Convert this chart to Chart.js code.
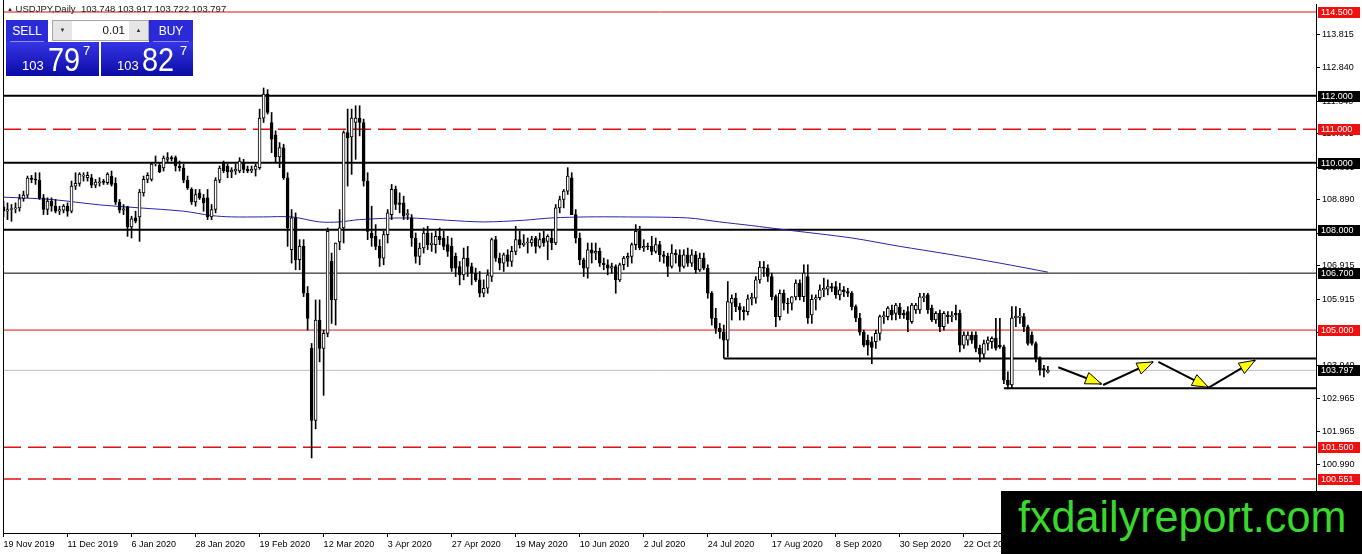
<!DOCTYPE html>
<html>
<head>
<meta charset="utf-8">
<script src="https://cdn.jsdelivr.net/npm/chart.js@4.4.0/dist/chart.umd.min.js"></script>
<style>
  body { margin: 0; background: #fff; overflow: hidden; }
  #wrap { position: relative; width: 1362px; height: 554px; font-family: 'Liberation Sans', Arial, sans-serif; }
  canvas { display: block; }
  #hdr { position: absolute; left: 7px; top: 3px; font-size: 9.5px; line-height: 11px; color: #1a1a1a; white-space: pre; }
  #hdr .tri { font-size: 6px; vertical-align: 1px; }
  .tab { position: absolute; top: 20px; height: 22px; background: #2a2ad8; color: #fff; font-size: 12px; line-height: 22px; text-align: center; }
  .tab:after { content: ''; position: absolute; left: 4px; right: 4px; bottom: 0; height: 1px; background: #8c8cf0; }
  .spin { position: absolute; left: 52px; top: 20px; width: 95px; height: 19px; border: 1px solid #a8a8a8; background: #fff; }
  .sbtn { position: absolute; top: 0; width: 19px; height: 19px; background: #e6e6e6; color: #333; font-size: 6px; line-height: 19px; text-align: center; }
  .sval { position: absolute; left: 20px; width: 52px; top: 0; height: 19px; font-size: 11.5px; line-height: 19px; text-align: right; color: #111; }
  .pbox { position: absolute; top: 42px; height: 34px; background: linear-gradient(#3535e6, #0b0ba6); color: #fff; }
  .pbox span { position: absolute; line-height: 1; white-space: nowrap; }
  .small { font-size: 13px; top: 17px; }
  .big { font-size: 34px; top: 0px; transform: scaleX(0.85); transform-origin: left top; }
  .sup { font-size: 13px; top: 2px; }
  #logo { position: absolute; left: 1001px; top: 491px; width: 361px; height: 63px; background: #000; }
  #logo span { position: absolute; left: 17px; top: 4px; font-size: 44px; line-height: 1; color: #38d82c; white-space: nowrap; transform: scaleX(0.98); transform-origin: left top; }
</style>
</head>
<body>
<div id="wrap">
  <canvas id="chart" width="1362" height="554"></canvas>
  <div id="hdr"><span class="tri">▲</span> USDJPY,Daily  103.748 103.917 103.722 103.797</div>
  <div class="tab" style="left:6px;width:42px">SELL</div>
  <div class="spin">
    <div class="sbtn" style="left:0">▼</div>
    <div class="sval">0.01</div>
    <div class="sbtn" style="right:0">▲</div>
  </div>
  <div class="tab" style="left:149px;width:44px">BUY</div>
  <div class="pbox" style="left:6px;width:93px">
    <span class="small" style="left:16px">103</span><span class="big" style="left:42px">79</span><span class="sup" style="left:77px">7</span>
  </div>
  <div class="pbox" style="left:101px;width:92px">
    <span class="small" style="left:16px">103</span><span class="big" style="left:41px">82</span><span class="sup" style="left:79px">7</span>
  </div>
  <div id="logo"><span>fxdailyreport.com</span></div>
</div>
<script>
// USDJPY daily, one row per bar: [open, high, low, close]
const candles = [
  [108.68,108.85,108.38,108.55],[108.55,108.80,108.30,108.60],[108.60,108.75,108.25,108.62],[108.62,108.80,108.50,108.65],
  [108.65,109.05,108.55,108.93],[108.93,109.15,108.85,109.03],[109.03,109.60,108.95,109.54],[109.54,109.62,109.40,109.50],
  [109.50,109.70,109.35,109.48],[109.48,109.70,108.90,108.95],[108.95,109.05,108.45,108.60],[108.60,108.95,108.45,108.85],
  [108.85,108.95,108.55,108.70],[108.70,108.90,108.50,108.55],[108.55,108.70,108.45,108.60],[108.58,108.75,108.50,108.70],
  [108.70,108.80,108.40,108.55],[108.55,109.45,108.50,109.30],[109.30,109.70,109.20,109.38],[109.38,109.70,109.30,109.66],
  [109.60,109.70,109.45,109.62],[109.55,109.72,109.45,109.62],[109.55,109.65,109.25,109.33],[109.33,109.50,109.25,109.42],
  [109.40,109.55,109.30,109.43],[109.42,109.50,109.35,109.41],[109.40,109.70,109.35,109.66],[109.60,109.75,109.30,109.35],
  [109.38,109.55,108.75,108.82],[108.82,108.90,108.50,108.58],[108.58,108.75,108.45,108.62],[108.68,108.70,107.80,108.08],
  [108.08,108.40,107.75,108.32],[108.35,108.55,108.20,108.25],[108.38,109.20,107.65,109.12],[109.10,109.60,109.00,109.50],
  [109.50,109.70,109.40,109.62],[109.50,110.00,109.45,109.96],[109.96,110.20,109.90,109.98],[109.93,109.98,109.70,109.72],
  [109.84,110.20,109.75,110.14],[110.10,110.30,110.00,110.15],[110.15,110.20,110.05,110.12],[110.15,110.20,109.75,109.90],
  [109.90,110.05,109.75,109.85],[109.84,109.95,109.40,109.48],[109.48,109.60,109.20,109.25],[109.20,109.25,108.75,108.83],
  [108.83,109.20,108.70,109.05],[109.10,109.20,108.90,108.95],[108.95,109.05,108.55,108.80],[108.95,109.20,108.30,108.38],
  [108.38,108.75,108.30,108.60],[108.60,109.55,108.50,109.48],[109.48,109.90,109.40,109.84],[109.98,110.05,109.70,109.76],
  [109.90,109.95,109.55,109.72],[109.72,109.85,109.55,109.78],[109.75,109.95,109.65,109.80],[109.75,110.15,109.70,110.05],
  [110.00,110.10,109.70,109.80],[109.80,109.90,109.70,109.75],[109.75,109.90,109.70,109.80],[109.80,109.95,109.60,109.90],
  [109.85,111.60,109.80,111.33],[111.33,112.23,111.20,112.05],[112.05,112.18,111.45,111.50],[111.20,111.50,110.30,110.70],
  [110.83,110.95,110.00,110.17],[110.17,110.60,109.85,110.45],[110.44,110.55,109.50,109.55],[109.55,109.70,107.50,108.05],
  [107.40,108.60,107.00,108.35],[108.35,108.50,106.80,107.10],[107.10,107.70,106.80,107.50],[107.50,107.70,106.00,106.10],
  [106.10,106.30,105.00,105.35],[104.46,104.60,101.18,102.30],[102.30,105.90,102.05,105.30],[105.30,105.90,104.05,104.45],
  [104.45,105.00,103.05,104.90],[104.90,108.05,104.80,107.95],[107.05,107.30,105.20,105.90],[105.90,107.60,105.15,107.60],
  [107.63,108.60,107.40,108.05],[108.05,110.95,107.60,110.90],[110.90,111.60,109.30,110.75],[110.77,111.60,109.65,111.33],
  [111.20,111.70,110.10,111.33],[111.33,111.70,110.80,111.20],[111.20,111.30,109.30,109.45],[109.45,109.70,107.70,107.95],
  [107.90,108.70,107.50,107.75],[107.80,108.15,107.40,107.50],[107.50,107.70,106.90,107.15],[107.15,107.95,106.95,107.85],
  [107.85,108.60,107.60,108.50],[108.45,109.35,108.30,109.20],[109.20,109.30,108.60,108.75],[108.80,109.10,108.50,108.75],
  [108.80,109.00,108.30,108.40],[108.45,108.60,108.30,108.45],[108.35,108.45,107.50,107.75],[107.75,107.90,107.00,107.20],
  [107.20,107.60,106.95,107.45],[107.45,108.05,107.30,107.90],[107.90,108.10,107.40,107.55],[107.55,107.90,107.35,107.60],
  [107.55,107.95,107.30,107.80],[107.80,108.05,107.55,107.70],[107.75,107.95,107.40,107.50],[107.55,107.80,107.20,107.35],
  [107.50,107.75,106.75,106.85],[107.20,107.30,106.60,106.85],[106.90,107.05,106.35,106.65],[106.65,107.45,106.50,107.15],
  [107.15,107.50,106.60,106.90],[106.90,107.00,106.35,106.70],[106.70,106.85,106.45,106.50],[106.50,106.75,105.99,106.10],
  [106.10,106.50,105.99,106.25],[106.25,106.80,106.10,106.65],[106.60,107.75,106.45,107.70],[107.70,107.80,107.05,107.15],
  [107.15,107.30,106.80,107.00],[107.00,107.30,106.75,107.25],[107.25,107.40,106.90,107.05],[107.05,107.50,106.90,107.35],
  [107.35,108.10,107.25,107.70],[107.70,107.95,107.45,107.55],[107.55,107.85,107.50,107.60],[107.60,107.75,107.30,107.60],
  [107.60,107.80,107.50,107.70],[107.75,107.80,107.30,107.50],[107.50,107.90,107.45,107.70],[107.75,107.95,107.50,107.60],
  [107.65,107.85,107.10,107.80],[107.75,108.00,107.40,107.60],[107.60,108.75,107.55,108.65],[108.65,109.00,108.50,108.90],
  [108.90,109.20,108.65,109.15],[109.15,109.85,109.05,109.60],[109.55,109.70,108.45,108.45],[108.45,108.60,107.60,107.75],
  [107.75,107.90,106.95,107.10],[107.10,107.15,106.60,106.85],[106.85,107.60,106.55,107.40],[107.40,107.60,107.00,107.30],
  [107.30,107.60,107.10,107.35],[107.35,107.45,106.90,107.00],[107.00,107.15,106.80,106.95],[106.95,107.10,106.65,106.85],
  [106.85,107.00,106.70,106.90],[106.90,106.95,106.10,106.50],[106.50,107.00,106.45,106.95],[106.95,107.20,106.80,107.15],
  [107.15,107.30,106.90,107.20],[107.20,107.60,107.00,107.55],[107.55,108.15,107.40,107.95],[107.95,108.10,107.40,107.45],
  [107.45,107.70,107.35,107.50],[107.50,107.60,107.40,107.48],[107.50,107.80,107.25,107.35],[107.35,107.75,107.30,107.55],
  [107.55,107.65,107.05,107.25],[107.25,107.35,107.00,107.20],[107.20,107.30,106.60,106.90],[106.90,107.55,106.85,107.30],
  [107.30,107.40,107.00,107.25],[107.25,107.40,106.75,106.90],[106.90,107.40,106.85,107.25],[107.25,107.45,106.90,107.00],
  [107.00,107.40,106.90,107.25],[107.25,107.35,106.70,106.80],[106.80,107.30,106.75,107.15],[107.15,107.30,106.80,106.85],
  [106.85,106.95,105.95,106.10],[106.10,106.15,105.15,105.35],[105.35,105.65,104.90,105.05],[105.05,105.20,104.75,104.95],
  [104.95,105.15,104.16,104.70],[104.70,106.45,104.20,105.85],[105.80,106.05,105.30,105.95],[105.95,106.10,105.55,105.70],
  [105.70,105.80,105.30,105.60],[105.60,105.70,105.30,105.55],[105.55,106.05,105.45,105.93],[105.93,106.10,105.75,105.98],
  [105.95,106.60,105.80,106.50],[106.50,107.05,106.40,106.88],[106.88,107.05,106.60,106.85],[106.85,106.95,106.45,106.60],
  [106.60,106.70,105.90,106.00],[106.00,106.05,105.10,105.40],[105.40,106.20,105.30,106.10],[106.10,106.20,105.60,105.80],
  [105.80,105.95,105.50,105.78],[105.80,106.00,105.60,105.99],[105.99,106.50,105.90,106.40],[106.40,106.50,105.90,106.00],
  [106.00,106.95,105.85,106.70],[106.60,106.95,105.20,105.36],[105.45,106.05,105.20,105.92],[105.92,106.05,105.60,105.97],
  [105.97,106.35,105.90,106.20],[106.20,106.55,106.00,106.25],[106.22,106.50,106.05,106.30],[106.30,106.40,106.15,106.25],
  [106.30,106.45,105.95,106.05],[106.05,106.40,105.90,106.20],[106.20,106.30,106.00,106.15],[106.15,106.25,106.00,106.10],
  [106.10,106.15,105.60,105.70],[105.70,105.75,105.25,105.36],[105.36,105.50,104.85,104.94],[104.94,105.00,104.50,104.55],
  [104.70,104.85,104.25,104.55],[104.65,104.80,104.00,104.48],[104.65,105.00,104.45,104.90],[104.90,105.45,104.70,105.40],
  [105.40,105.55,105.20,105.42],[105.40,105.70,105.30,105.66],[105.60,105.75,105.30,105.45],[105.50,105.80,105.30,105.75],
  [105.68,105.80,105.35,105.45],[105.50,105.60,105.35,105.45],[105.55,105.70,104.95,105.30],[105.25,105.80,105.20,105.75],
  [105.60,105.80,105.50,105.75],[105.60,106.10,105.50,105.99],[105.97,106.10,105.85,106.00],[106.05,106.10,105.50,105.60],
  [105.66,105.75,105.25,105.30],[105.30,105.55,105.20,105.50],[105.50,105.60,104.95,105.10],[105.10,105.55,105.00,105.50],
  [105.45,105.55,105.20,105.40],[105.40,105.55,105.25,105.42],[105.50,105.75,105.30,105.45],[105.50,105.60,104.35,104.55],
  [104.55,104.95,104.45,104.85],[104.70,104.95,104.55,104.85],[104.85,104.95,104.60,104.70],[104.85,104.95,104.35,104.45],
  [104.46,104.55,104.05,104.28],[104.28,104.70,104.15,104.60],[104.60,104.80,104.40,104.70],[104.65,104.80,104.45,104.75],
  [104.76,105.35,104.40,104.46],[104.55,105.35,104.45,104.50],[104.50,104.55,103.40,103.50],[103.50,103.75,103.24,103.36],
  [103.36,105.70,103.26,105.36],[105.36,105.70,105.10,105.42],[105.38,105.65,105.20,105.42],[105.40,105.50,104.95,105.10],
  [105.10,105.15,104.55,104.60],[104.85,104.95,104.55,104.60],[104.60,104.65,104.05,104.17],[104.17,104.20,103.65,103.80],
  [103.85,103.95,103.60,103.80],[103.748,103.917,103.722,103.797]
];

// moving average (blue), read at a few bars
const maBars   = [0, 12, 24, 34, 45, 52, 57, 65, 72, 79, 84, 89, 101, 111, 120, 130, 137, 146, 154, 171, 179, 187, 195, 212, 224, 236, 249, 261];
const maValues = [108.97, 108.90, 108.74, 108.65, 108.55, 108.42, 108.38, 108.38, 108.38, 108.23, 108.23, 108.30, 108.35, 108.28,
                  108.23, 108.28, 108.35, 108.38, 108.38, 108.35, 108.23, 108.12, 108.00, 107.75, 107.50, 107.27, 107.00, 106.73];

// horizontal levels
const redSolidLevels = [114.5, 105.0];
const redDashedLevels = [111.0, 101.5, 100.551];
const blackMajorLevels = [112.0, 110.0, 108.0];
const blackMinorLevels = [106.7];
const lastPrice = 103.797;
const supportStartBars = [180, 250];
const supportLevels = [104.15, 103.26];

// right-axis tags
const redTags = [114.5, 111.0, 105.0, 101.5, 100.551];
const blackTags = [112.0, 110.0, 108.0, 106.7, 103.797];

// projected path arrows [bar, price]
const arrowFrom = [[263.6, 103.89], [274.8, 103.36], [288.6, 104.05], [301.3, 103.29]];
const arrowTo   = [[274.4, 103.39], [287.3, 104.05], [301.1, 103.29], [312.8, 104.10]];

// axis ticks
const priceTicks = [113.815, 112.840, 111.840, 110.865, 109.865, 108.890, 107.890, 106.915, 105.915, 104.940, 103.940, 102.965, 101.965, 100.990];
const dateTickBars = [0, 16, 32, 48, 64, 80, 96, 112, 128, 144, 160, 176, 192, 208, 224, 240];
const dateTickLabels = ['19 Nov 2019', '11 Dec 2019', '6 Jan 2020', '28 Jan 2020', '19 Feb 2020', '12 Mar 2020', '3 Apr 2020', '27 Apr 2020',
                        '19 May 2020', '10 Jun 2020', '2 Jul 2020', '24 Jul 2020', '17 Aug 2020', '8 Sep 2020', '30 Sep 2020', '22 Oct 2020'];

const X_MIN = -0.125, X_MAX = 328;
const Y_MIN = 98.939, Y_MAX = 114.739;
const FONT = "'Liberation Sans', Arial, sans-serif";

const bodies = candles.map((c, i) => ({ x: i, y: [c[0], c[3]] }));
const wicks = candles.map((c, i) => ({ x: i, y: [c[2], c[1]] }));
const bodyFill = candles.map(c => c[3] >= c[0] ? '#ffffff' : '#000000');

function hline(v, color, width, dash, from) {
  return {
    type: 'line', order: 5,
    data: [{ x: from === undefined ? X_MIN : from, y: v }, { x: X_MAX, y: v }],
    borderColor: color, borderWidth: width, borderDash: dash || [],
    pointRadius: 0, fill: false
  };
}

const levelSets = [
  ...redSolidLevels.map(v => hline(v, '#dd1111', 1)),
  ...redDashedLevels.map(v => hline(v, '#dd1111', 1.5, [18, 7])),
  ...blackMajorLevels.map(v => hline(v, '#000000', 2)),
  ...blackMinorLevels.map(v => hline(v, '#000000', 1)),
  hline(lastPrice, '#bdbdbd', 1),
  ...supportLevels.map((v, i) => hline(v, '#000000', 2, null, supportStartBars[i]))
];

const arrowPoints = [];
arrowFrom.forEach((p, i) => {
  arrowPoints.push({ x: p[0], y: p[1] }, { x: arrowTo[i][0], y: arrowTo[i][1] }, { x: arrowTo[i][0] + 0.1, y: null });
});

const panelPlugin = {
  id: 'panel',
  afterDatasetsDraw(chart) {
    const { ctx, scales: { x, y } } = chart;
    ctx.save();
    arrowTo.forEach((t, i) => {
      const fx = x.getPixelForValue(arrowFrom[i][0]), fy = y.getPixelForValue(arrowFrom[i][1]);
      const tx = x.getPixelForValue(t[0]), ty = y.getPixelForValue(t[1]);
      const len = Math.hypot(tx - fx, ty - fy);
      const ux = (tx - fx) / len, uy = (ty - fy) / len;
      const bx = tx - ux * 16, by = ty - uy * 16;
      ctx.beginPath();
      ctx.moveTo(tx, ty);
      ctx.lineTo(bx - uy * 6, by + ux * 6);
      ctx.lineTo(bx + uy * 6, by - ux * 6);
      ctx.closePath();
      ctx.fillStyle = '#ffff00';
      ctx.fill();
      ctx.strokeStyle = '#000';
      ctx.lineWidth = 1;
      ctx.stroke();
    });
    ctx.restore();
  },
  afterDraw(chart) {
    const { ctx, chartArea: a, scales: { y } } = chart;
    ctx.save();
    ctx.strokeStyle = '#000';
    ctx.lineWidth = 1;
    ctx.beginPath();
    ctx.moveTo(a.left + 0.5, 0);
    ctx.lineTo(a.left + 0.5, a.bottom);
    ctx.stroke();
    ctx.font = '9px ' + FONT;
    ctx.textBaseline = 'middle';
    const tag = (v, bg) => {
      const py = Math.round(y.getPixelForValue(v));
      ctx.fillStyle = bg;
      ctx.fillRect(a.right + 2, py - 5, 42, 11);
      ctx.fillStyle = '#fff';
      ctx.fillText(v.toFixed(3), a.right + 5, py + 0.5);
    };
    redTags.forEach(v => tag(v, '#f01010'));
    blackTags.forEach(v => tag(v, '#000000'));
    ctx.restore();
  }
};

new Chart(document.getElementById('chart'), {
  type: 'bar',
  data: {
    datasets: [
      {
        data: bodies, order: 0, grouped: false, barThickness: 3, minBarLength: 1,
        backgroundColor: bodyFill, borderColor: '#000', borderWidth: 1, borderSkipped: false
      },
      {
        data: wicks, order: 1, grouped: false, barThickness: 1,
        backgroundColor: '#000', borderWidth: 0
      },
      {
        type: 'line', order: 2, data: maBars.map((b, i) => ({ x: b, y: maValues[i] })),
        borderColor: '#2424a8', borderWidth: 1, pointRadius: 0, fill: false, tension: 0.3
      },
      {
        type: 'line', order: 3, data: arrowPoints, spanGaps: false,
        borderColor: '#000', borderWidth: 2, pointRadius: 0, fill: false
      },
      ...levelSets
    ]
  },
  options: {
    responsive: false,
    animation: false,
    devicePixelRatio: 1,
    layout: { padding: { left: 3, top: 4, right: 0, bottom: 0 } },
    plugins: { legend: { display: false }, tooltip: { enabled: false } },
    scales: {
      x: {
        type: 'linear', min: X_MIN, max: X_MAX, offset: false,
        afterBuildTicks: s => { s.ticks = dateTickBars.map(v => ({ value: v })); },
        afterFit: s => { s.height = 21; },
        ticks: {
          callback: v => dateTickLabels[dateTickBars.indexOf(v)],
          align: 'start', maxRotation: 0, autoSkip: false,
          font: { family: FONT, size: 9 }, color: '#000', padding: 2
        },
        grid: { drawOnChartArea: false, offset: false, color: '#000', tickLength: 4 },
        border: { color: '#000' }
      },
      y: {
        position: 'right', min: Y_MIN, max: Y_MAX,
        afterBuildTicks: s => { s.ticks = [...priceTicks].sort((p, q) => p - q).map(v => ({ value: v })); },
        afterFit: s => { s.width = 46; s.paddingTop = 0; s.paddingBottom = 0; },
        ticks: {
          callback: v => v.toFixed(3), autoSkip: false,
          font: { family: FONT, size: 9 }, color: '#000', padding: 2
        },
        grid: { drawOnChartArea: false, color: '#000', tickLength: 4 },
        border: { color: '#000' }
      }
    }
  },
  plugins: [panelPlugin]
});
</script>
</body>
</html>
